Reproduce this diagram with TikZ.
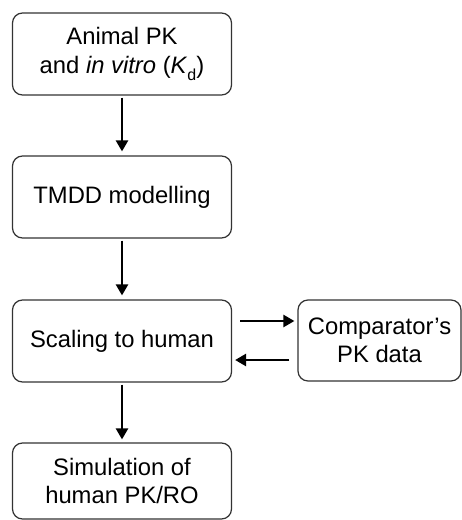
\documentclass[tikz,border=0pt]{standalone}
\usepackage{fontspec}
\setmainfont{Liberation Sans}
\usetikzlibrary{arrows.meta,calc}

\tikzset{
  flowbox/.style={draw=black!80, line width=1.2pt, rounded corners=10pt,
    fill=white, align=center, inner sep=0pt,
    font=\fontsize{23.8}{28.5}\selectfont},
  mainbox/.style={flowbox, minimum width=219pt, minimum height=82pt},
  sidebox/.style={flowbox, minimum width=163pt, minimum height=81pt},
  arr/.style={line width=2.5pt, -{Triangle[length=11pt,width=12pt]}}
}

\begin{document}
\begin{tikzpicture}[x=1pt,y=-1pt]
  \useasboundingbox (0,0) rectangle (462,520);

  % main column
  \node[mainbox] (animal) at (122,54)
    {Animal PK\\and \textit{in vitro} (\textit{K}\raisebox{-0.28em}{\fontsize{16}{16}\selectfont d})};
  \node[mainbox] (tmdd)   at (122,197) {TMDD modelling};
  \node[mainbox] (scale)  at (122,341)   {Scaling to human};
  \node[mainbox, minimum height=76pt] (sim) at (122,481)
    {Simulation of\\human PK/RO};

  % side box
  \node[sidebox] (cmp) at (379.5,340.5) {Comparator’s\\PK data};

  % vertical flow
  \draw[arr, shorten <=2pt, shorten >=4pt] (animal.south) -- (tmdd.north);
  \draw[arr, shorten <=2pt, shorten >=4pt] (tmdd.south) -- (scale.north);
  \draw[arr, shorten <=2pt, shorten >=3pt] (scale.south) -- (sim.north);

  % exchange with comparator data
  \draw[arr, shorten <=8pt, shorten >=3pt]
    ([yshift=20pt]scale.east) -- ([yshift=20pt]scale.east -| cmp.west);
  \draw[arr, shorten <=8pt, shorten >=3pt]
    ([yshift=-19pt]scale.east -| cmp.west) -- ([yshift=-19pt]scale.east);
\end{tikzpicture}
\end{document}
